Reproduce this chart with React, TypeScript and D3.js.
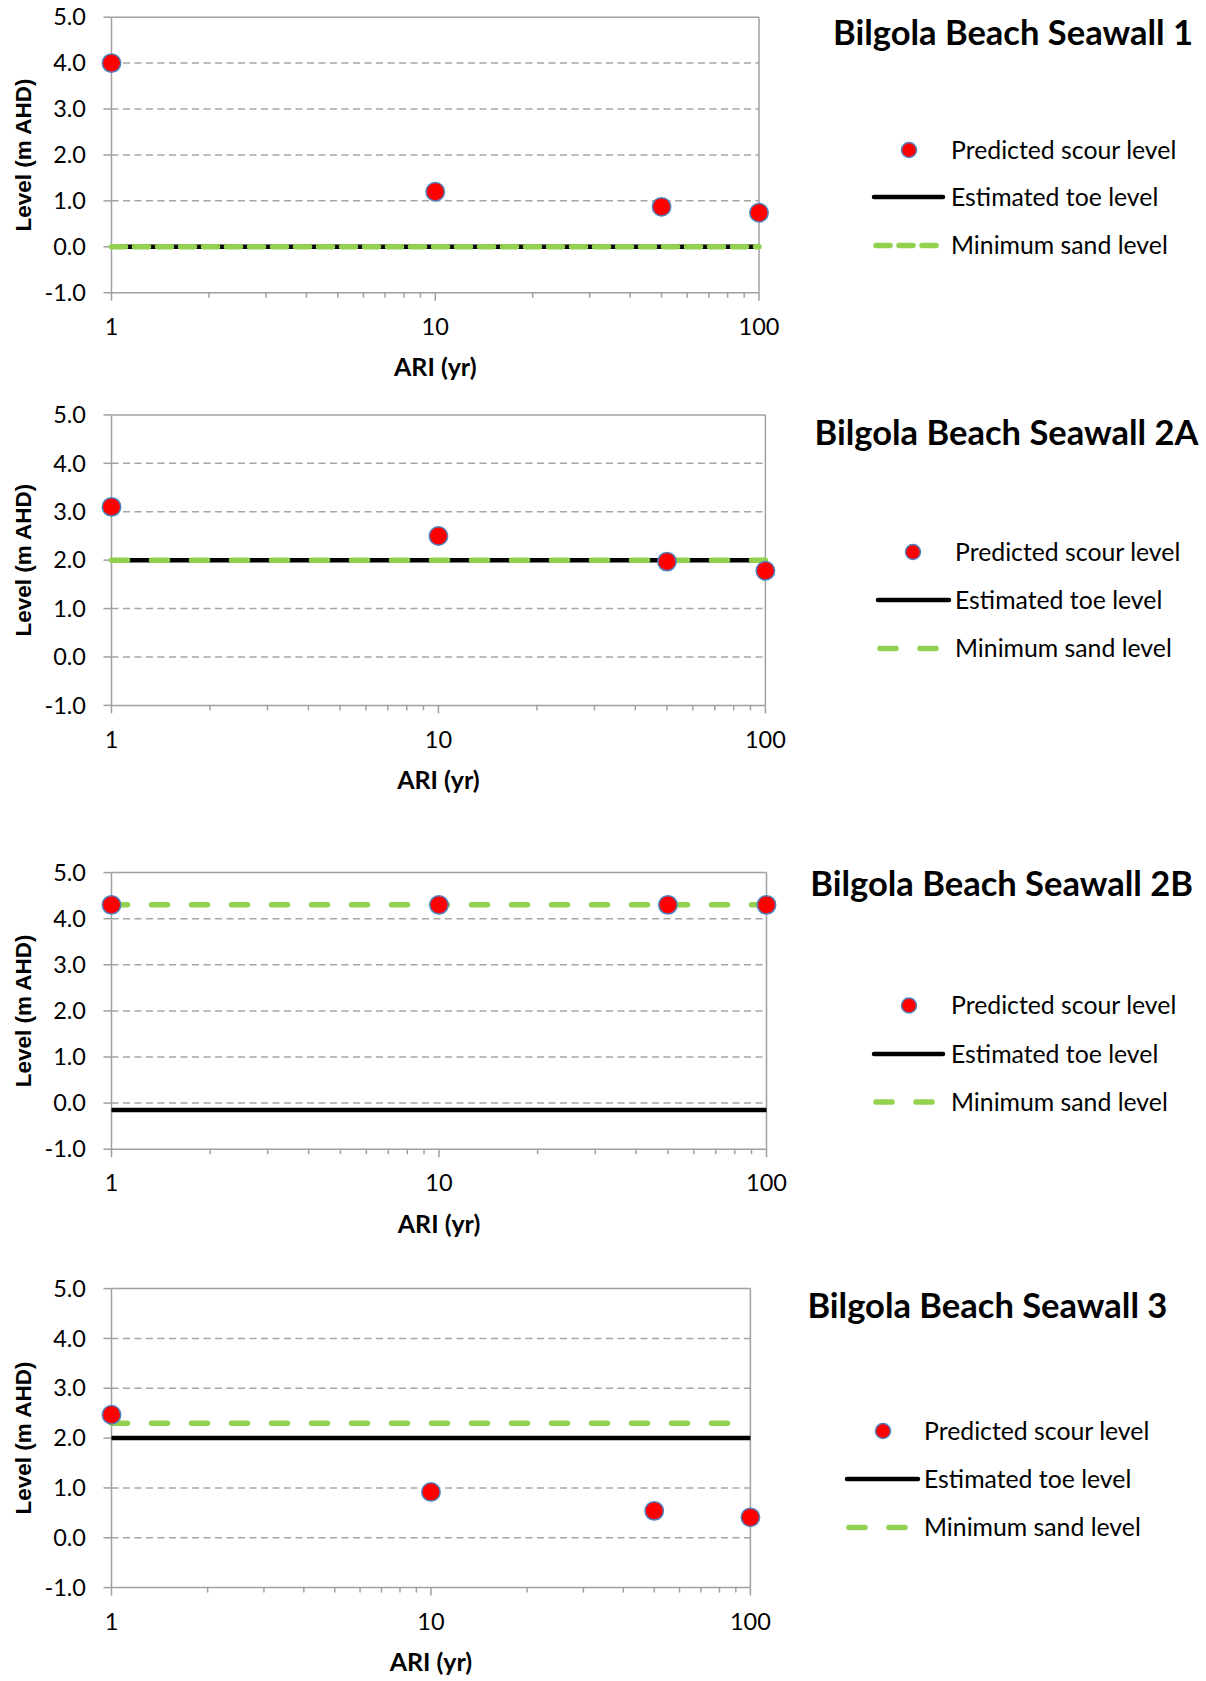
import React from 'react';
import * as d3 from 'd3';

// ---------- data ----------
const ariPoints = [1, 10, 50, 100];
const ariTickLabels = [1, 10, 100];
const levelTicks = [-1, 0, 1, 2, 3, 4, 5];
const levelDomain = [-1, 5];
const ariDomain = [1, 100];

const titles = [
  'Bilgola Beach Seawall 1',
  'Bilgola Beach Seawall 2A',
  'Bilgola Beach Seawall 2B',
  'Bilgola Beach Seawall 3',
];
const scour1 = [4.0, 1.2, 0.87, 0.74];
const scour2A = [3.1, 2.5, 1.97, 1.78];
const scour2B = [4.3, 4.3, 4.3, 4.3];
const scour3 = [2.47, 0.92, 0.54, 0.41];
const toeLevels = [0.0, 2.0, -0.15, 2.0];
const sandLevels = [0.0, 2.0, 4.3, 2.3];
const legendLabels = ['Predicted scour level', 'Estimated toe level', 'Minimum sand level'];
const yAxisTitle = 'Level (m AHD)';
const xAxisTitle = 'ARI (yr)';

// ---------- layout ----------
const layouts = [
  { L: 111.5, R: 759, T: 17.2, B: 292.7, tx: 1193, ty: 33, mx: 909, lx: 951, rows: [150, 197, 245.5], l0: 874, l1: 943, sandLeg: [876, 938] },
  { L: 111.5, R: 765.4, T: 414.9, B: 705.4, tx: 1198.5, ty: 433, mx: 913, lx: 955, rows: [552, 600, 648.5], l0: 878, l1: 949, sandLeg: [880, 939] },
  { L: 111.5, R: 766.5, T: 872.6, B: 1149.2, tx: 1193, ty: 884, mx: 909, lx: 951, rows: [1005.5, 1054, 1102], l0: 874, l1: 943, sandLeg: [876, 935] },
  { L: 111.5, R: 750.4, T: 1288.6, B: 1587.6, tx: 1167.4, ty: 1305.7, mx: 883, lx: 924, rows: [1431, 1479, 1527.6], l0: 847, l1: 918, sandLeg: [849, 908] },
];

const scours = [scour1, scour2A, scour2B, scour3];

const FONT = "Lato, 'Open Sans', sans-serif";
const GRID = '#a6a6a6';
const AXIS = '#a0a0a0';
const GREEN = '#92D050';
const RED = '#FF0000';
const BLUE = '#4F81BD';

function Panel({ idx }: { idx: number }) {
  const lay = layouts[idx];
  const x = d3.scaleLog().domain(ariDomain).range([lay.L, lay.R]);
  const y = d3.scaleLinear().domain(levelDomain).range([lay.B, lay.T]);
  const line = d3
    .line<[number, number]>()
    .x((d) => x(d[0]))
    .y((d) => y(d[1]));
  const toeData: [number, number][] = ariPoints.map((a) => [a, toeLevels[idx]]);
  const sandData: [number, number][] = ariPoints.map((a) => [a, sandLevels[idx]]);
  const minor = x.ticks();
  const scour = scours[idx];
  const cy = (lay.T + lay.B) / 2;
  const sandDash = idx === 0 ? '14,9' : '16,24';
  return (
    <g>
      {/* gridlines */}
      {levelTicks.map((t) =>
        t > levelDomain[0] && t < levelDomain[1] ? (
          <line key={'g' + t} x1={lay.L} x2={lay.R} y1={y(t)} y2={y(t)} stroke={GRID} strokeWidth={1.5} strokeDasharray="7,4.5" />
        ) : null
      )}
      {/* border */}
      <line x1={lay.L} x2={lay.R} y1={y(5)} y2={y(5)} stroke={AXIS} strokeWidth={1.5} />
      <line x1={lay.R} x2={lay.R} y1={lay.T} y2={lay.B} stroke={AXIS} strokeWidth={1.5} />
      <line x1={lay.L} x2={lay.L} y1={lay.T} y2={lay.B} stroke={AXIS} strokeWidth={1.5} />
      <line x1={lay.L} x2={lay.R} y1={lay.B} y2={lay.B} stroke={AXIS} strokeWidth={1.5} />
      {/* y ticks */}
      {levelTicks.map((t) => (
        <g key={'y' + t}>
          <line x1={lay.L - 8} x2={lay.L} y1={y(t)} y2={y(t)} stroke={AXIS} strokeWidth={1.5} />
          <text x={86} y={y(t)} dy="0.35em" textAnchor="end" fontFamily={FONT} fontSize={23.5} fill="#000">
            {t.toFixed(1)}
          </text>
        </g>
      ))}
      {/* x ticks */}
      {minor.map((t) => {
        const major = ariTickLabels.includes(t);
        return (
          <line key={'x' + t} x1={x(t)} x2={x(t)} y1={lay.B} y2={lay.B + (major ? 8 : 5)} stroke={AXIS} strokeWidth={1.5} />
        );
      })}
      {ariTickLabels.map((t) => (
        <text key={'xl' + t} x={x(t)} y={lay.B + 34} dy="0.35em" textAnchor="middle" fontFamily={FONT} fontSize={23.5} fill="#000">
          {t}
        </text>
      ))}
      <text x={x(10)} y={lay.B + 75} dy="0.35em" textAnchor="middle" fontFamily={FONT} fontWeight="bold" fontSize={25} fill="#000">
        {xAxisTitle}
      </text>
      <text
        transform={`translate(23,${cy}) rotate(-90)`}
        textAnchor="middle"
        dy="0.35em"
        fontFamily="'Liberation Sans', Arial, sans-serif"
        fontWeight="bold"
        fontSize={22.5}
        fill="#000"
      >
        {yAxisTitle}
      </text>
      {/* series */}
      <path d={line(toeData) || ''} stroke="#000" strokeWidth={4.5} fill="none" />
      <path d={line(sandData) || ''} stroke={GREEN} strokeWidth={5.5} strokeLinecap="round" strokeDasharray={sandDash} fill="none" />
      {ariPoints.map((a, i) => (
        <circle key={'p' + a} cx={x(a)} cy={y(scour[i])} r={9.2} fill={RED} stroke={BLUE} strokeWidth={1.5} />
      ))}
      {/* title */}
      <text x={lay.tx} y={lay.ty} dy="0.35em" textAnchor="end" fontFamily={FONT} fontWeight="bold" fontSize={34.5} fill="#000">
        {titles[idx]}
      </text>
      {/* legend */}
      <circle cx={lay.mx} cy={lay.rows[0]} r={7.5} fill={RED} stroke={BLUE} strokeWidth={1.5} />
      <line x1={lay.l0} x2={lay.l1} y1={lay.rows[1]} y2={lay.rows[1]} stroke="#000" strokeWidth={4.5} strokeLinecap="round" />
      <line x1={lay.sandLeg[0]} x2={lay.sandLeg[1]} y1={lay.rows[2]} y2={lay.rows[2]} stroke={GREEN} strokeWidth={5.5} strokeLinecap="round" strokeDasharray={sandDash} />
      {legendLabels.map((lab, i) => (
        <text key={lab} x={lay.lx} y={lay.rows[i]} dy="0.35em" fontFamily={FONT} fontSize={24.8} fill="#000">
          {lab}
        </text>
      ))}
    </g>
  );
}

export default function App() {
  return (
    <svg width={1206} height={1681} style={{ position: 'absolute', left: 0, top: 0, background: '#fff' }}>
      <rect x={0} y={0} width={1206} height={1681} fill="#fff" />
      {titles.map((_, i) => (
        <Panel key={i} idx={i} />
      ))}
    </svg>
  );
}
